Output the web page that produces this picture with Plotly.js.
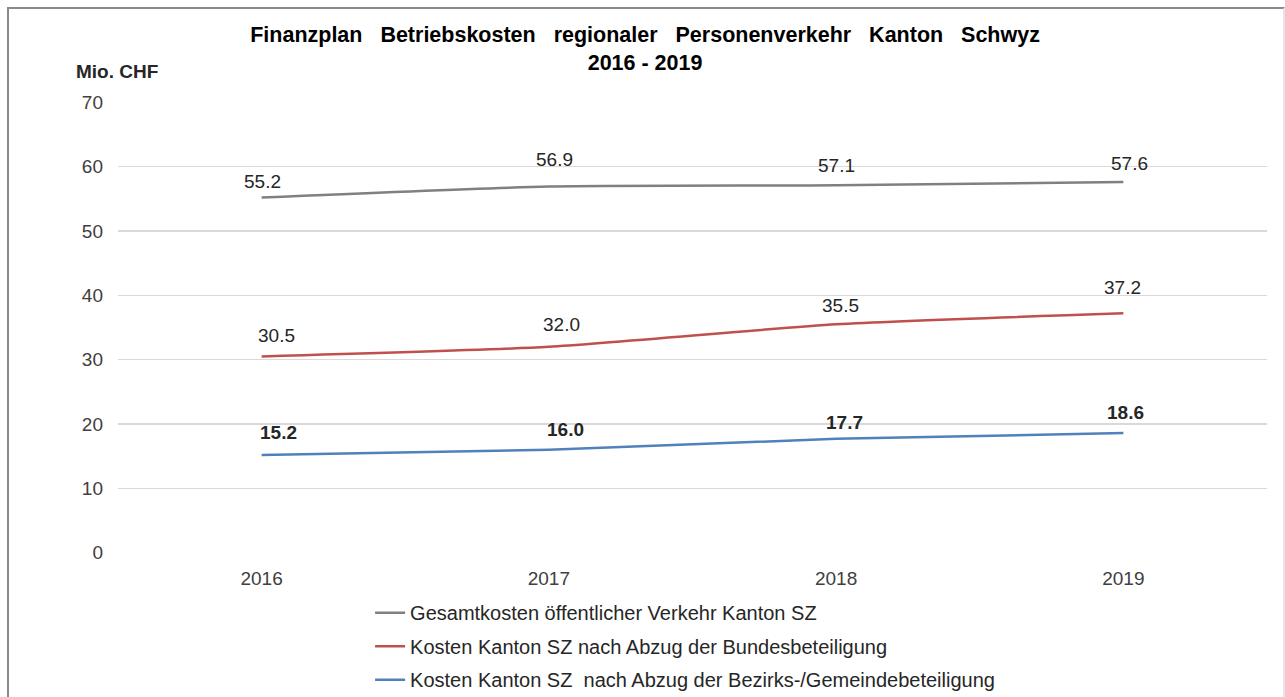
<!DOCTYPE html>
<html>
<head>
<meta charset="utf-8">
<script src="https://cdn.plot.ly/plotly-3.0.1.min.js"></script>
<style>
  html, body { margin: 0; padding: 0; background: #ffffff; }
  #chart { width: 1285px; height: 697px; }
  #frame { position: absolute; left: 7px; top: 7px; width: 1274px; height: 700px;
           border-left: 2px solid #8a8a8a; border-top: 2px solid #8a8a8a; border-right: 2px solid #e6e6e6;
           pointer-events: none; }
</style>
</head>
<body>
<div id="chart"></div>
<div id="frame"></div>
<script>
// ---- data ----
const years = ['2016', '2017', '2018', '2019'];
const seriesNames = [
  'Gesamtkosten öffentlicher Verkehr Kanton SZ',
  'Kosten Kanton SZ nach Abzug der Bundesbeteiligung',
  'Kosten Kanton SZ  nach Abzug der Bezirks-/Gemeindebeteiligung'
];
const gesamtkosten = [55.2, 56.9, 57.1, 57.6];
const nachBund = [30.5, 32.0, 35.5, 37.2];
const nachGemeinde = [15.2, 16.0, 17.7, 18.6];
const yTicks = [0, 10, 20, 30, 40, 50, 60, 70];

// ---- styles ----
const colors = ['#808080', '#c0504d', '#4f81bd'];
const labelBold = [false, false, true];
// label pixel offsets [dx, dy] per point
const labelShift = [
  [[1, 16], [6, 27], [0, 20], [6, 19]],
  [[15, 21], [13, 22], [4, 19], [-1, 26]],
  [[17, 22], [17, 20], [8, 16], [2, 21]]
];

const allSeries = [gesamtkosten, nachBund, nachGemeinde];
const font = 'Arial, "Liberation Sans", sans-serif';

const traces = allSeries.map((vals, i) => ({
  type: 'scatter',
  mode: 'lines',
  x: years,
  y: vals,
  name: seriesNames[i],
  legendgroup: 'g' + i,
  line: { color: colors[i], width: 2.5, shape: 'spline', smoothing: 0.6 },
  hoverinfo: 'x+y'
}));

const annotations = [];
allSeries.forEach((vals, i) => {
  vals.forEach((v, j) => {
    const t = v.toFixed(1);
    annotations.push({
      x: j, y: v, xref: 'x', yref: 'y',
      text: labelBold[i] ? '<b>' + t + '</b>' : t,
      showarrow: false,
      xshift: labelShift[i][j][0], yshift: labelShift[i][j][1],
      font: { family: font, size: 19, color: '#262626' }
    });
  });
});
annotations.push({
  text: '<b>Mio. CHF</b>', xref: 'paper', yref: 'paper',
  x: -0.038, y: 1.067, xanchor: 'left', yanchor: 'middle', showarrow: false,
  font: { family: font, size: 19, color: '#262626' }
});

const layout = {
  width: 1285, height: 697,
  margin: { l: 118, r: 18, t: 102, b: 144, autoexpand: false },
  paper_bgcolor: '#ffffff', plot_bgcolor: '#ffffff',
  title: {
    text: '<b>Finanzplan   Betriebskosten   regionaler   Personenverkehr   Kanton   Schwyz</b><br><b>2016 - 2019</b>',
    x: 0.502, xanchor: 'center', yref: 'container', y: 0.94, yanchor: 'top',
    font: { family: font, size: 21.5, color: '#000000' }
  },
  xaxis: {
    type: 'category', range: [-0.5, 3.5],
    showgrid: false, zeroline: false, showline: false, ticks: '', ticklabelstandoff: 12,
    tickfont: { family: font, size: 19, color: '#404040' }
  },
  yaxis: {
    range: [-0.05, 70.05], tickvals: yTicks, ticktext: yTicks.map(String),
    showgrid: true, gridcolor: '#d9d9d9', gridwidth: 1.3,
    zeroline: false, showline: false, ticks: '', ticklabelstandoff: 14,
    tickfont: { family: font, size: 19, color: '#404040' }
  },
  showlegend: true,
  legend: {
    orientation: 'v', x: 0.2194, xanchor: 'left', yref: 'container', y: 0.149, yanchor: 'top',
    traceorder: 'grouped', tracegroupgap: 4.5,
    font: { family: font, size: 20, color: '#262626' },
    bgcolor: 'rgba(0,0,0,0)'
  },
  annotations: annotations
};

Plotly.newPlot('chart', traces, layout, { displayModeBar: false, staticPlot: true });
</script>
</body>
</html>
